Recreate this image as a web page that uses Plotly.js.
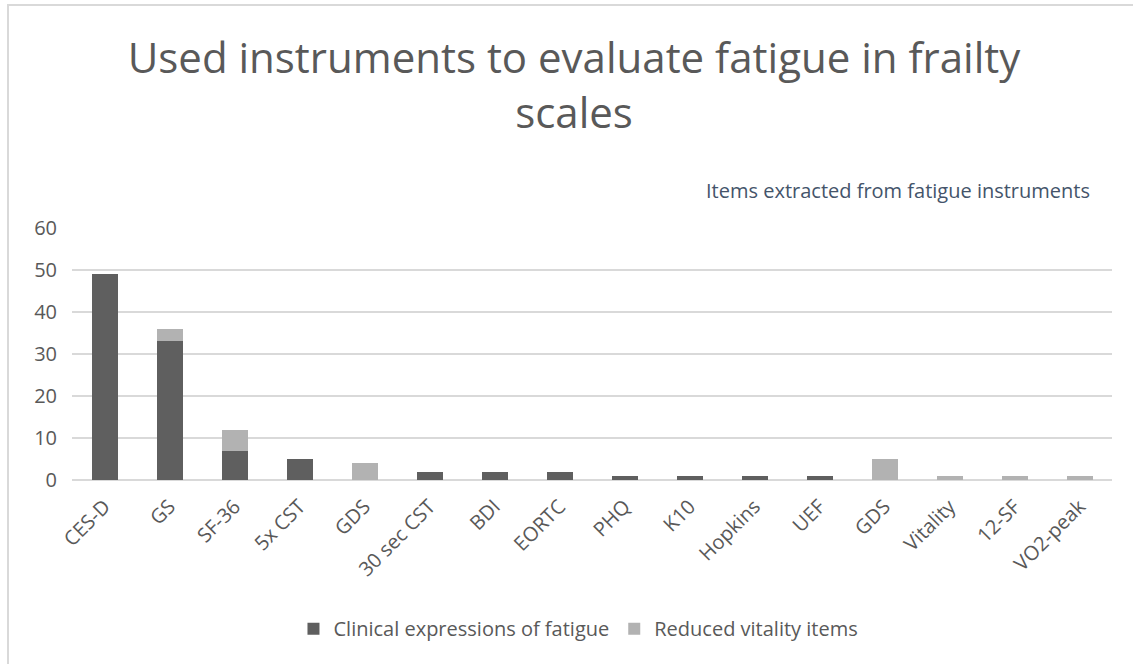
<!DOCTYPE html>
<html>
<head>
<meta charset="utf-8">
<script src="https://cdn.plot.ly/plotly-3.0.1.min.js"></script>
<style>
  html, body { margin: 0; padding: 0; background: #ffffff; overflow: hidden; }
  #frame { position: absolute; left: 7px; top: 4px; width: 1200px; height: 700px; border: 2px solid #d9d9d9; box-sizing: border-box; pointer-events: none; z-index: 5; }
  #chart { position: absolute; left: 0; top: 0; width: 1133px; height: 664px; }
</style>
</head>
<body>
<div id="chart"></div>
<div id="frame"></div>
<script>
const categories = ["CES-D", "GS", "SF-36", "5x CST", "GDS", "30 sec CST", "BDI", "EORTC", "PHQ", "K10", "Hopkins", "UEF", "GDS", "Vitality", "12-SF", "VO2-peak"];
const clinicalExpressions = [49, 33, 7, 5, 0, 2, 2, 2, 1, 1, 1, 1, 0, 0, 0, 0];
const reducedVitality = [0, 3, 5, 0, 4, 0, 0, 0, 0, 0, 0, 0, 5, 1, 1, 1];
const yTicks = [0, 10, 20, 30, 40, 50, 60];

const positions = categories.map((c, i) => i);
const FONT = "'Open Sans', 'Noto Sans', sans-serif";
const TXT = "#595959";

const traces = [
  {
    type: "bar",
    name: "Clinical expressions of fatigue",
    x: positions,
    y: clinicalExpressions,
    marker: { color: "#5f5f5f" },
    hoverinfo: "skip"
  },
  {
    type: "bar",
    name: "Reduced vitality items",
    x: positions,
    y: reducedVitality,
    marker: { color: "#b2b2b2" },
    hoverinfo: "skip"
  }
];

const layout = {
  width: 1133,
  height: 664,
  barmode: "stack",
  bargap: 0.6,
  paper_bgcolor: "#ffffff",
  plot_bgcolor: "#ffffff",
  margin: { l: 72, r: 21, t: 228, b: 184, pad: 0 },
  font: { family: FONT, color: TXT, size: 20 },
  title: {
    text: "Used instruments to evaluate fatigue in frailty<br>scales",
    font: { family: FONT, size: 42, color: TXT },
    x: 574 / 1133,
    xref: "container",
    xanchor: "center",
    y: 0.89,
    yref: "container",
    yanchor: "top"
  },
  xaxis: {
    range: [-0.5, categories.length - 0.5],
    tickmode: "array",
    tickvals: positions,
    ticktext: categories,
    tickangle: -45,
    showgrid: false,
    showline: false,
    zeroline: false,
    ticks: "",
    ticklabelstandoff: 10,
    tickfont: { family: FONT, size: 20, color: TXT },
    fixedrange: true
  },
  yaxis: {
    range: [0, 60],
    tickmode: "array",
    tickvals: yTicks,
    ticktext: yTicks.map(String),
    showgrid: true,
    gridcolor: "#d9d9d9",
    gridwidth: 1.5,
    zeroline: true,
    zerolinecolor: "#d9d9d9",
    zerolinewidth: 1.5,
    showline: false,
    ticks: "",
    ticklabelstandoff: 14,
    tickfont: { family: FONT, size: 20, color: TXT },
    fixedrange: true
  },
  showlegend: true,
  legend: {
    orientation: "h",
    x: 0.487,
    xanchor: "center",
    y: -0.59,
    yanchor: "middle",
    font: { family: FONT, size: 20, color: TXT },
    traceorder: "normal",
    itemclick: false,
    itemdoubleclick: false
  },
  annotations: [
    {
      text: "Items extracted from fatigue instruments",
      xref: "paper",
      yref: "paper",
      x: (1092 - 72) / 1040,
      xanchor: "right",
      y: 1.15,
      yanchor: "middle",
      showarrow: false,
      font: { family: FONT, size: 20, color: "#44546a" }
    }
  ]
};

Plotly.newPlot("chart", traces, layout, { displayModeBar: false, staticPlot: true });
</script>
</body>
</html>
